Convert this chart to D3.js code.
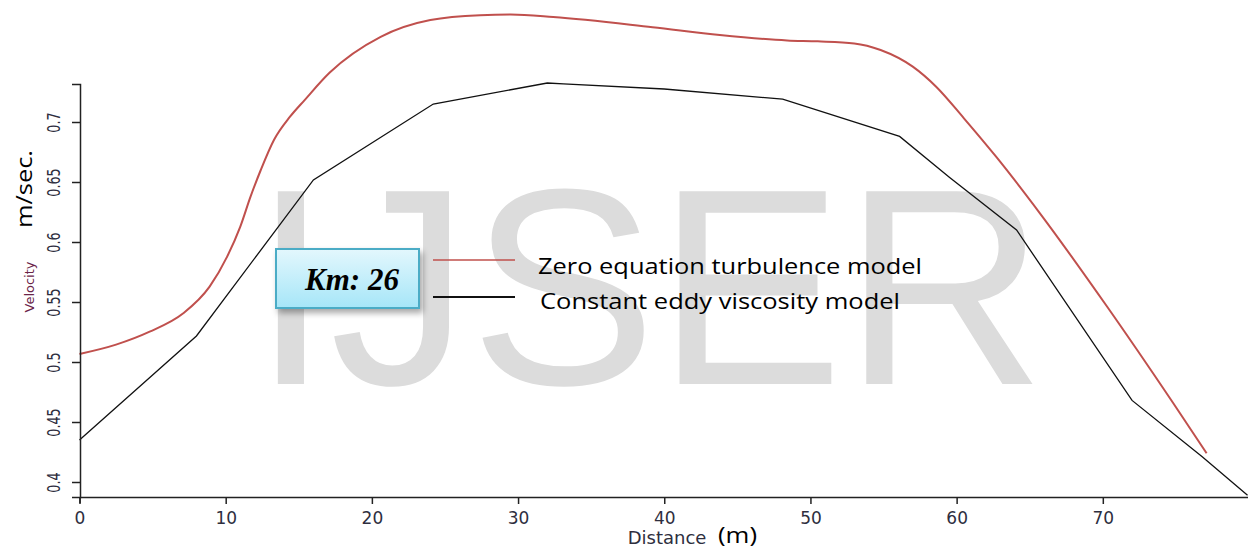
<!DOCTYPE html>
<html>
<head>
<meta charset="utf-8">
<script src="https://cdn.jsdelivr.net/npm/d3@7"></script>
<style>
  body { margin: 0; background: #fff; }
  svg { display: block; }
  .axis text { font-family: "DejaVu Sans", Tahoma, sans-serif; font-size: 17px; fill: #2e2e3e; }
  .axis path, .axis line { stroke: #222; stroke-width: 1.5; }
</style>
</head>
<body>
<div id="chart"></div>
<script>
// distance (m) and velocity (m/sec)
var zeroDist = [0, 2.5, 4.8, 7.1, 8.9, 10.1, 11.0, 11.7, 12.4, 13.3, 14.4, 15.4, 17.1, 20.6, 24.0, 27.4, 29.5, 32.4, 39.2, 43.8, 48.4, 50.5, 53.0, 54.8, 57.0, 58.6, 60.5, 62.7, 65.7, 70.3, 74.8, 77.1];
var zeroVel = [0.5067, 0.5145, 0.5253, 0.5406, 0.5628, 0.5878, 0.6128, 0.6378, 0.66, 0.685, 0.7044, 0.7183, 0.741, 0.771, 0.785, 0.789, 0.7895, 0.7875, 0.779, 0.7725, 0.768, 0.7672, 0.7655, 0.76, 0.7461, 0.7294, 0.7031, 0.6711, 0.6239, 0.546, 0.466, 0.424];

var eddyDist = [0, 8.0, 16.0, 24.2, 32.0, 33.1, 40.0, 48.1, 56.1, 59.5, 64.1, 72.0, 76.8, 79.9];
var eddyVel = [0.435, 0.5217, 0.6517, 0.715, 0.7325, 0.7317, 0.7275, 0.719, 0.688, 0.654, 0.61, 0.468, 0.421, 0.389];

var xTicks = [0, 10, 20, 30, 40, 50, 60, 70];
var yTicks = [0.4, 0.45, 0.5, 0.55, 0.6, 0.65, 0.7];
var seriesNames = ["Zero equation turbulence model", "Constant eddy viscosity model"];
var seriesColors = ["#c0504d", "#111"];

var width = 1248, height = 548;

var svg = d3.select("#chart").append("svg")
    .attr("width", width)
    .attr("height", height);

var defs = svg.append("defs");
var grad = defs.append("linearGradient").attr("id", "boxFill")
    .attr("x1", 0).attr("y1", 0).attr("x2", 0).attr("y2", 1);
grad.append("stop").attr("offset", "0%").attr("stop-color", "#e3f7fd");
grad.append("stop").attr("offset", "100%").attr("stop-color", "#a6e6f8");
var shadow = defs.append("filter").attr("id", "shadow")
    .attr("x", "-20%").attr("y", "-20%").attr("width", "150%").attr("height", "160%");
shadow.append("feDropShadow")
    .attr("dx", 3).attr("dy", 4).attr("stdDeviation", 3)
    .attr("flood-color", "#000").attr("flood-opacity", 0.35);

// scales
var x = d3.scaleLinear().domain([0, 80]).range([79.5, 1249]);
var y = d3.scaleLinear().domain([0.4, 0.7]).range([482, 122]);
var yTop = y.invert(84), yBottom = y.invert(497);
y.domain([yBottom, yTop]).range([497, 84]);

// watermark
svg.append("text")
    .attr("x", 252)
    .attr("y", 384)
    .style("font-family", "'Liberation Sans', Arial, sans-serif")
    .style("font-size", "280px")
    .style("fill", "#dcdcdc")
    .text("IJSER");

// lines
var zeroData = zeroDist.map(function (d, i) { return { x: d, v: zeroVel[i] }; });
var eddyData = eddyDist.map(function (d, i) { return { x: d, v: eddyVel[i] }; });

var smooth = d3.line()
    .x(function (d) { return x(d.x); })
    .y(function (d) { return y(d.v); })
    .curve(d3.curveMonotoneX);
var straight = d3.line()
    .x(function (d) { return x(d.x); })
    .y(function (d) { return y(d.v); });

svg.append("path")
    .datum(zeroData)
    .attr("d", smooth)
    .style("fill", "none")
    .style("stroke", seriesColors[0])
    .style("stroke-width", 2);

svg.append("path")
    .datum(eddyData)
    .attr("d", straight)
    .style("fill", "none")
    .style("stroke", seriesColors[1])
    .style("stroke-width", 1.3);

// axes
var xAxis = d3.axisBottom(x)
    .tickValues(xTicks)
    .tickSize(7)
    .tickSizeOuter(0);
var xg = svg.append("g")
    .attr("class", "x axis")
    .attr("transform", "translate(0,497)")
    .call(xAxis);
xg.selectAll(".tick text")
    .attr("y", 27)
    .attr("dy", null);

var yAxis = d3.axisLeft(y)
    .tickValues(yTicks)
    .tickFormat(function (d) { return String(+d.toFixed(2)); })
    .tickSize(8)
    .tickSizeOuter(8);
var yg = svg.append("g")
    .attr("class", "y axis")
    .attr("transform", "translate(80,0)")
    .call(yAxis);
yg.selectAll(".tick text")
    .attr("x", null)
    .attr("dy", null)
    .attr("text-anchor", "middle")
    .attr("transform", "translate(-20,0) rotate(-90) scale(0.75,1)");
// y axis sticks a little below the x axis
yg.append("line").attr("x1", 0).attr("x2", 0).attr("y1", 497).attr("y2", 503)
    .style("stroke", "#222").style("stroke-width", 1.5);

// axis titles
svg.append("text")
    .attr("transform", "translate(34,287) rotate(-90)")
    .attr("text-anchor", "middle")
    .style("font-family", "'DejaVu Sans', Tahoma, sans-serif")
    .style("font-size", "13px")
    .style("fill", "#6a2448")
    .text("Velocity");
svg.append("text")
    .attr("transform", "translate(32,189) rotate(-90)")
    .attr("text-anchor", "middle")
    .attr("textLength", 78)
    .attr("lengthAdjust", "spacingAndGlyphs")
    .style("font-family", "'Open Sans', sans-serif")
    .style("font-size", "22px")
    .style("fill", "#000")
    .text("m/sec.");

svg.append("text")
    .attr("x", 667)
    .attr("y", 544)
    .attr("text-anchor", "middle")
    .style("font-family", "'DejaVu Sans', Tahoma, sans-serif")
    .style("font-size", "18px")
    .style("fill", "#2e2e3e")
    .text("Distance");
svg.append("text")
    .attr("x", 718)
    .attr("y", 543)
    .attr("textLength", 39)
    .attr("lengthAdjust", "spacingAndGlyphs")
    .style("font-family", "'Open Sans', sans-serif")
    .style("font-size", "21px")
    .style("fill", "#000")
    .text("(m)");

// Km box
svg.append("rect")
    .attr("x", 276).attr("y", 249)
    .attr("width", 143).attr("height", 59)
    .style("fill", "url(#boxFill)")
    .style("stroke", "#4bacc6")
    .style("stroke-width", 2)
    .style("filter", "url(#shadow)");
svg.append("text")
    .attr("x", 352)
    .attr("y", 290)
    .attr("text-anchor", "middle")
    .style("font-family", "'Liberation Serif', 'DejaVu Serif', serif")
    .style("font-style", "italic")
    .style("font-weight", "bold")
    .style("font-size", "31px")
    .style("fill", "#000")
    .text("Km: 26");

// legend
var legendY = [260, 297];
var legendTextY = [274, 309];
var legendTextX = [538, 540];
var legendTextW = [384, 360];
seriesNames.forEach(function (name, i) {
    svg.append("line")
        .attr("x1", 433).attr("x2", 515)
        .attr("y1", legendY[i]).attr("y2", legendY[i])
        .style("stroke", seriesColors[i])
        .style("stroke-width", i === 0 ? 1.5 : 1.8);
    svg.append("text")
        .attr("x", legendTextX[i])
        .attr("y", legendTextY[i])
        .attr("textLength", legendTextW[i])
        .attr("lengthAdjust", "spacingAndGlyphs")
        .style("font-family", "'Open Sans', sans-serif")
        .style("font-size", "22px")
        .style("fill", "#000")
        .text(name);
});
</script>
</body>
</html>
